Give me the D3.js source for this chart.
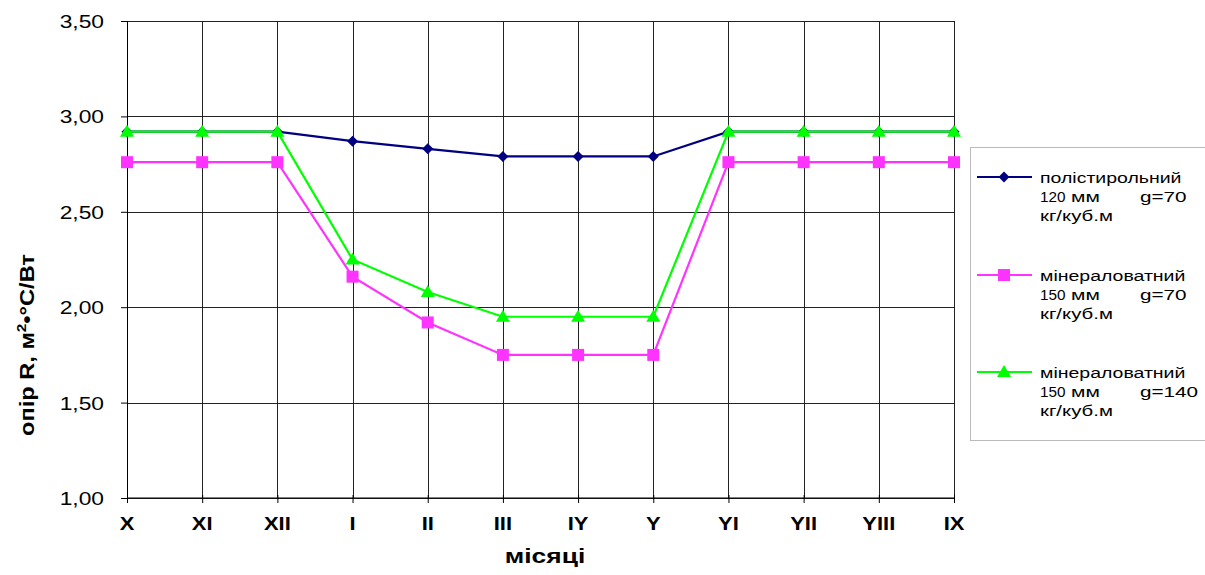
<!DOCTYPE html>
<html><head><meta charset="utf-8">
<script src="https://cdn.jsdelivr.net/npm/d3@7"></script>
<style>body{margin:0;background:#fff}svg{display:block;font-family:"Liberation Sans",Arial,sans-serif}</style>
</head><body><svg id="c" width="1205" height="575"></svg>
<script>
const months = ["X","XI","XII","I","II","III","IY","Y","YI","YII","YIII","IX"];
const polystyrene120 = [2.92,2.92,2.92,2.87,2.83,2.79,2.79,2.79,2.92,2.92,2.92,2.92];
const mineral150g70 = [2.76,2.76,2.76,2.16,1.92,1.75,1.75,1.75,2.76,2.76,2.76,2.76];
const mineral150g140 = [2.92,2.92,2.92,2.25,2.08,1.95,1.95,1.95,2.92,2.92,2.92,2.92];
const yTicks = [1.0,1.5,2.0,2.5,3.0,3.5];
const legendNames = ["полістирольний","мінераловатний","мінераловатний"];
const legendThickness = ["120","150","150"];
const legendDensity = ["g=70","g=70","g=140"];
const legendUnit = "кг/куб.м";
const series = [
  {values: polystyrene120, color:"#000080", marker:"diamond"},
  {values: mineral150g70, color:"#ff33ff", marker:"square"},
  {values: mineral150g140, color:"#00ff00", marker:"triangle"}
];

const svg = d3.select("#c");
const L=127, R=954, T=21, B=498;
const x = d3.scalePoint().domain(months).range([L,R]);
const y = d3.scaleLinear().domain([1,3.5]).range([B,T]);

function txt(parent, px, py, str, o){
  o = o||{};
  const g = parent.append("g").attr("transform",`translate(${px},${py}) ${o.rot?`rotate(${o.rot})`:""} scale(${o.sx||1},1)`);
  const t = g.append("text").attr("x",0).attr("y",0)
    .attr("font-size",o.size||15).attr("font-weight",o.weight||"normal")
    .attr("text-anchor",o.anchor||"start").attr("fill","#000");
  if(str!==null) t.text(str);
  return t;
}

// gridlines
svg.append("g").selectAll("line").data(yTicks).join("line")
  .attr("x1",L).attr("x2",R).attr("y1",d=>Math.round(y(d))+0.5).attr("y2",d=>Math.round(y(d))+0.5)
  .attr("stroke","#222").attr("stroke-width",1);
svg.append("g").selectAll("line").data(months).join("line")
  .attr("x1",d=>Math.round(x(d))+0.5).attr("x2",d=>Math.round(x(d))+0.5).attr("y1",T).attr("y2",B)
  .attr("stroke","#222").attr("stroke-width",1);

// axes (lines via d3 axis, labels custom-stretched)
const yAxis = d3.axisLeft(y).tickValues(yTicks).tickSize(6).tickFormat("");
const gy = svg.append("g").attr("transform",`translate(${L},0)`).call(yAxis);
gy.select(".domain").attr("stroke","#000");
gy.selectAll(".tick line").attr("stroke","#000");
yTicks.forEach(v=>{
  txt(svg,104,y(v)+7,d3.format(".2f")(v).replace(".",","),{size:19,anchor:"end",sx:1.2});
});

const xAxis = d3.axisBottom(x).tickSize(5).tickFormat("");
const gx = svg.append("g").attr("transform",`translate(0,${B})`).call(xAxis);
gx.select(".domain").attr("stroke","#000").attr("d",`M${L},0H${R}`);
gx.selectAll(".tick line").attr("stroke","#000").attr("y1",-3);
months.forEach(m=>{
  txt(svg,x(m),530,m,{size:18,weight:"bold",anchor:"middle",sx:1.22});
});

// titles
txt(svg,545,563,"місяці",{size:20,weight:"bold",anchor:"middle",sx:1.32});
const yt = txt(svg,34,345,null,{size:20,weight:"bold",anchor:"middle",rot:-90,sx:1.18});
yt.append("tspan").text("опір R, м");
yt.append("tspan").attr("font-size",13).attr("dy",-8).text("2");
yt.append("tspan").attr("dy",8).text("•°С/Вт");

// markers
function drawMarker(g, type, color, cx, cy){
  if(type==="diamond"){
    g.append("path").attr("d",`M${cx},${cy-5.5}L${cx+5.5},${cy}L${cx},${cy+5.5}L${cx-5.5},${cy}Z`).attr("fill",color);
  } else if(type==="square"){
    g.append("rect").attr("x",cx-6).attr("y",cy-6).attr("width",12).attr("height",12).attr("fill",color);
  } else {
    g.append("path").attr("d",`M${cx},${cy-7}L${cx+7},${cy+5}L${cx-7},${cy+5}Z`).attr("fill",color);
  }
}

const line = d3.line().x((d,i)=>x(months[i])).y(d=>y(d));
series.forEach(s=>{
  const g = svg.append("g");
  g.append("path").datum(s.values).attr("d",line).attr("fill","none").attr("stroke",s.color).attr("stroke-width",2.2);
  s.values.forEach((v,i)=>drawMarker(g,s.marker,s.color,x(months[i]),y(v)));
});

// legend
const lg = svg.append("g");
lg.append("rect").attr("x",970.5).attr("y",147.5).attr("width",260).attr("height",293)
  .attr("fill","#fff").attr("stroke","#bbb").attr("stroke-width",1);
const entryY = [177,275,372];
series.forEach((s,i)=>{
  const yy = entryY[i];
  lg.append("line").attr("x1",977).attr("x2",1032).attr("y1",yy).attr("y2",yy).attr("stroke",s.color).attr("stroke-width",2.2);
  drawMarker(lg,s.marker,s.color,1004,yy);
  txt(lg,1040,yy+6,legendNames[i],{size:15,sx:1.3});
  txt(lg,1040,yy+25,legendThickness[i],{size:15,sx:1.02});
  txt(lg,1071,yy+25,"мм",{size:15,sx:1.4});
  txt(lg,1140,yy+25,legendDensity[i],{size:15,sx:1.38});
  txt(lg,1040,yy+44,legendUnit,{size:15,sx:1.36});
});
</script></body></html>
